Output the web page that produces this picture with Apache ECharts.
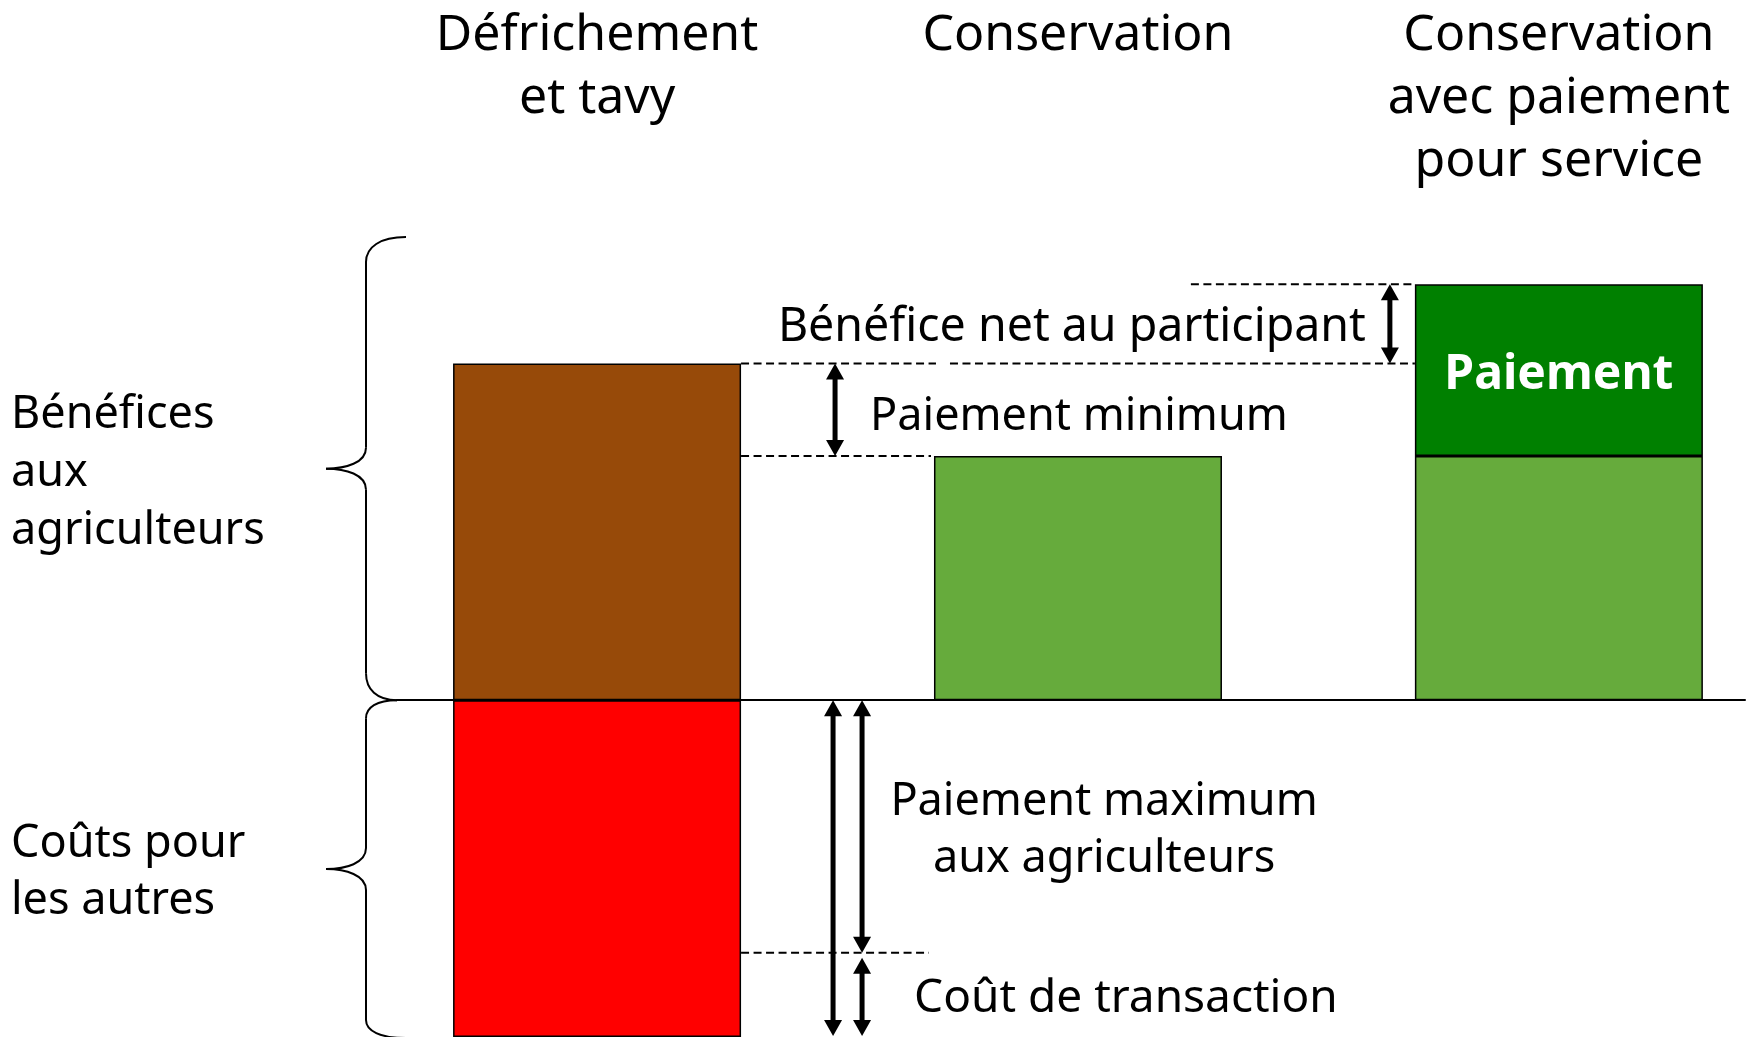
<!DOCTYPE html>
<html>
<head>
<meta charset="utf-8">
<title>Paiement pour service</title>
<script src="https://cdn.jsdelivr.net/npm/echarts@6/dist/echarts.min.js"></script>
<style>
    html, body { margin: 0; padding: 0; background: #fff; }
    #chart { width: 1748px; height: 1037px; }
</style>
</head>
<body>
<div id="chart"></div>
<script>
/** ---------------- données ---------------- */
var categories = ['Défrichement\net tavy', 'Conservation', 'Conservation\navec paiement\npour service'];
var beneficesAgriculteurs = [100, 72.5, 72.5];
var paiementService = [0, 0, 51];
var coutsAutres = [-100, 0, 0];
var limitePaiementMax = -75;   // au-dessous : coût de transaction
var hautAccolade = 137.5;

var groupes = ['Bénéfices\naux\nagriculteurs', 'Coûts pour\nles autres'];
var libellePaiement = 'Paiement';
var texteNet = 'Bénéfice net au participant';
var texteMin = 'Paiement minimum';
var texteMax = 'Paiement maximum\naux agriculteurs';
var texteTransaction = 'Coût de transaction';

var couleursBarres = ['#974A09', '#66AB3C', '#66AB3C'];
var police = '"Noto Sans", sans-serif';
var largeurBarre = 288;

/** ---------------- chargement ---------------- */
var chart = echarts.init(document.getElementById('chart'));
initChart();
initAnnotations();

// valeurs -> [y, x] (y en premier pour que la pile se fasse sur y), zéros non dessinés
function toData(values, colors) {
    var data = [];
    for (var i = 0; i < values.length; i++) {
        var item = { value: [values[i] === 0 ? '-' : values[i], i] };
        if (colors) {
            item.itemStyle = { color: colors[i] };
        }
        data.push(item);
    }
    return data;
}

/** --------barres------ */
function initChart() {
    var option = {
        animation: false,
        grid: { left: 397, right: 3, top: 195, bottom: 0 },
        xAxis: {
            type: 'value',
            min: -0.416,
            max: 2.387,
            axisLine: { show: true, onZero: true, lineStyle: { color: '#000', width: 2 } },
            axisTick: { show: false },
            axisLabel: { show: false },
            splitLine: { show: false }
        },
        yAxis: {
            type: 'value',
            min: -100,
            max: 150,
            show: false,
            splitLine: { show: false }
        },
        series: [
            {
                name: 'Bénéfices aux agriculteurs',
                type: 'bar',
                stack: 'total',
                barWidth: largeurBarre,
                encode: { x: 1, y: 0 },
                itemStyle: { borderColor: '#000', borderWidth: 1.5 },
                data: toData(beneficesAgriculteurs, couleursBarres)
            },
            {
                name: libellePaiement,
                type: 'bar',
                stack: 'total',
                barWidth: largeurBarre,
                encode: { x: 1, y: 0 },
                itemStyle: { color: '#008000', borderColor: '#000', borderWidth: 1.5 },
                label: {
                    show: true,
                    position: 'inside',
                    offset: [0, 5],
                    formatter: libellePaiement,
                    color: '#fff',
                    fontFamily: police,
                    fontWeight: 'bold',
                    fontSize: 48
                },
                data: toData(paiementService)
            },
            {
                name: 'Coûts pour les autres',
                type: 'bar',
                stack: 'total',
                barWidth: largeurBarre,
                encode: { x: 1, y: 0 },
                itemStyle: { color: '#FF0000', borderColor: '#000', borderWidth: 1.5 },
                data: toData(coutsAutres)
            }
        ]
    };
    chart.setOption(option);
}

/** --------flèches, pointillés, accolades, textes------ */
function px(x, y) {
    return chart.convertToPixel({ gridIndex: 0 }, [x, y]);
}

function fleche(x, y1, y2) {
    var h = 16, w = 9;
    return {
        type: 'group',
        children: [
            { type: 'line', shape: { x1: x, y1: y1 + h - 2, x2: x, y2: y2 - h + 2 }, style: { stroke: '#000', lineWidth: 5 } },
            { type: 'polygon', shape: { points: [[x, y1], [x - w, y1 + h], [x + w, y1 + h]] }, style: { fill: '#000' } },
            { type: 'polygon', shape: { points: [[x, y2], [x - w, y2 - h], [x + w, y2 - h]] }, style: { fill: '#000' } }
        ]
    };
}

function pointille(x1, x2, y) {
    return {
        type: 'line',
        shape: { x1: x1, y1: y, x2: x2, y2: y },
        style: { stroke: '#000', lineWidth: 2, lineDash: [8, 4.5] }
    };
}

function courbe(x1, y1, cx1, cy1, cx2, cy2, x2, y2) {
    return {
        type: 'bezierCurve',
        shape: { x1: x1, y1: y1, cpx1: cx1, cpy1: cy1, cpx2: cx2, cpy2: cy2, x2: x2, y2: y2 },
        style: { stroke: '#000', lineWidth: 2, fill: null }
    };
}

function trait(x1, y1, x2, y2) {
    return {
        type: 'line',
        shape: { x1: x1, y1: y1, x2: x2, y2: y2 },
        style: { stroke: '#000', lineWidth: 2 }
    };
}

function accolade(x, top, bot, wTop, hTop, wBot, hBot) {
    var mid = (top + bot) / 2;
    return {
        type: 'group',
        children: [
            courbe(x + wTop, top, x + wTop * 0.35, top, x, top + hTop * 0.4, x, top + hTop),
            trait(x, top + hTop, x, mid - 21),
            courbe(x, mid - 21, x, mid - 6, x - 20, mid, x - 40, mid),
            courbe(x - 40, mid, x - 20, mid, x, mid + 6, x, mid + 21),
            trait(x, mid + 21, x, bot - hBot),
            courbe(x, bot - hBot, x, bot - hBot * 0.4, x + wBot * 0.35, bot, x + wBot, bot)
        ]
    };
}

function texte(str, x, y, size, align, vAlign, lineHeight) {
    return {
        type: 'text',
        x: x,
        y: y,
        style: {
            text: str,
            font: size + 'px ' + police,
            fill: '#000',
            textAlign: align,
            textVerticalAlign: vAlign,
            lineHeight: lineHeight
        }
    };
}

function initAnnotations() {
    var demi = largeurBarre / 2;
    var c0 = px(0, 0), c1 = px(1, 0), c2 = px(2, 0);
    var y0 = c0[1];
    var yBrun = px(0, beneficesAgriculteurs[0])[1];
    var yVert = px(1, beneficesAgriculteurs[1])[1];
    var yHaut = px(2, beneficesAgriculteurs[2] + paiementService[2])[1];
    var yLimite = px(0, limitePaiementMax)[1];
    var yBas = px(0, coutsAutres[0])[1];
    var yAccolade = px(0, hautAccolade)[1];

    var droiteBrun = c0[0] + demi;
    var gaucheVert = c1[0] - demi;
    var gaucheBarre3 = c2[0] - demi;

    var aMin = droiteBrun + 94;
    var aNet = gaucheBarre3 - 25;
    var aTotal = droiteBrun + 92;
    var aMax = droiteBrun + 121;

    var g = [];
    // pointillés
    g.push(pointille(droiteBrun, gaucheVert + 2, yBrun));
    g.push(pointille(gaucheVert + 16, gaucheBarre3, yBrun));
    g.push(pointille(droiteBrun, gaucheVert - 3, yVert));
    g.push(pointille(gaucheBarre3 - 224, gaucheBarre3, yHaut));
    g.push(pointille(droiteBrun, gaucheVert - 5, yLimite));

    // flèches
    g.push(fleche(aMin, yBrun, yVert));
    g.push(fleche(aNet, yHaut, yBrun));
    g.push(fleche(aTotal, y0, yBas - 1));
    g.push(fleche(aMax, y0, yLimite));
    g.push(fleche(aMax, yLimite + 5, yBas - 1));

    // accolades
    g.push(accolade(366, yAccolade, y0, 40, 25, 31, 27));
    g.push(accolade(366, y0, yBas + 1, 31, 18, 40, 18));

    // en-têtes
    var centres = [c0[0], c1[0], c2[0]];
    for (var i = 0; i < categories.length; i++) {
        g.push(texte(categories[i], centres[i], 4, 50, 'center', 'top', 63));
    }

    // groupes à gauche
    g.push(texte(groupes[0], 11, (yAccolade + y0) / 2 + 5, 45, 'left', 'middle', 58));
    g.push(texte(groupes[1], 11, (y0 + yBas) / 2 + 4, 45, 'left', 'middle', 57));

    // annotations
    g.push(texte(texteNet, aNet - 24, (yHaut + yBrun) / 2 + 4, 46.5, 'right', 'middle', 58));
    g.push(texte(texteMin, aMin + 35, (yBrun + yVert) / 2 + 7, 45, 'left', 'middle', 58));
    g.push(texte(texteMax, aMax + 242, (y0 + yLimite) / 2 + 4, 45, 'center', 'middle', 57));
    g.push(texte(texteTransaction, aMax + 52, (yLimite + yBas) / 2 + 4, 46, 'left', 'middle', 58));

    chart.setOption({ graphic: g });
}

window.onresize = function () {
    chart.resize();
};
</script>
</body>
</html>
